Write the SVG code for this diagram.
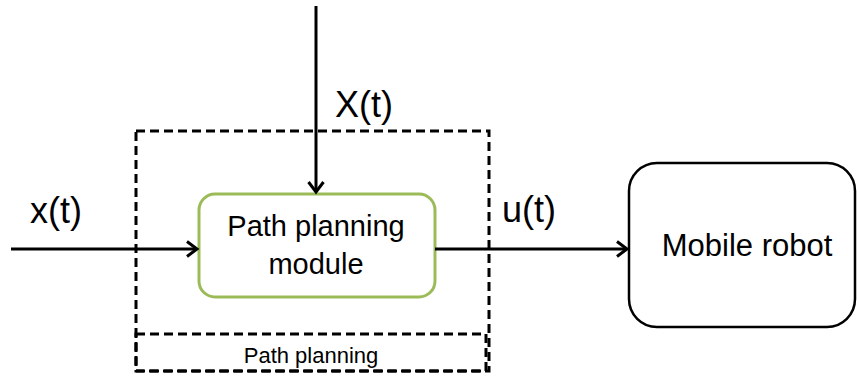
<svg xmlns="http://www.w3.org/2000/svg" width="857" height="377" viewBox="0 0 857 377">
<defs>
<style>
.t{font-family:"Liberation Sans",Arial,sans-serif;fill:#000}
.dash{fill:none;stroke:#000;stroke-width:3;stroke-dasharray:9,5}
.conn{fill:none;stroke:#000;stroke-width:3}
</style>
<marker id="arr" markerUnits="userSpaceOnUse" markerWidth="20" markerHeight="20" refX="14" refY="10" orient="auto">
<path d="M4,2.5 L14,10 L4,17.5" fill="none" stroke="#000" stroke-width="3" stroke-linejoin="miter"/>
</marker>
</defs>
<rect width="857" height="377" fill="#fff"/>
<g id="path-planning-group">
<rect class="dash" x="136" y="131" width="353" height="240"/>
<rect class="dash" x="136" y="334" width="350" height="37"/>
<text class="t" x="311" y="363" font-size="22" text-anchor="middle">Path planning</text>
</g>
<g id="path-planning-module">
<rect x="199" y="194" width="236" height="103" rx="16" fill="#fff" stroke="#9BBB59" stroke-width="3"/>
<text class="t" x="316" y="236" font-size="29" text-anchor="middle">Path planning</text>
<text class="t" x="316" y="274" font-size="29" text-anchor="middle">module</text>
</g>
<g id="mobile-robot">
<rect x="629" y="163" width="226" height="164" rx="28" fill="#fff" stroke="#000" stroke-width="2.5"/>
<text class="t" x="747" y="256" font-size="31" text-anchor="middle">Mobile robot</text>
</g>
<g id="connectors">
<line class="conn" x1="11" y1="249" x2="197" y2="249" marker-end="url(#arr)"/>
<line class="conn" x1="316" y1="6" x2="316" y2="192" marker-end="url(#arr)"/>
<line class="conn" x1="435" y1="249" x2="627" y2="249" marker-end="url(#arr)"/>
<text class="t" x="30" y="223" font-size="36">x(t)</text>
<text class="t" x="335" y="117" font-size="36">X(t)</text>
<text class="t" x="502" y="222" font-size="36">u(t)</text>
</g>
</svg>
